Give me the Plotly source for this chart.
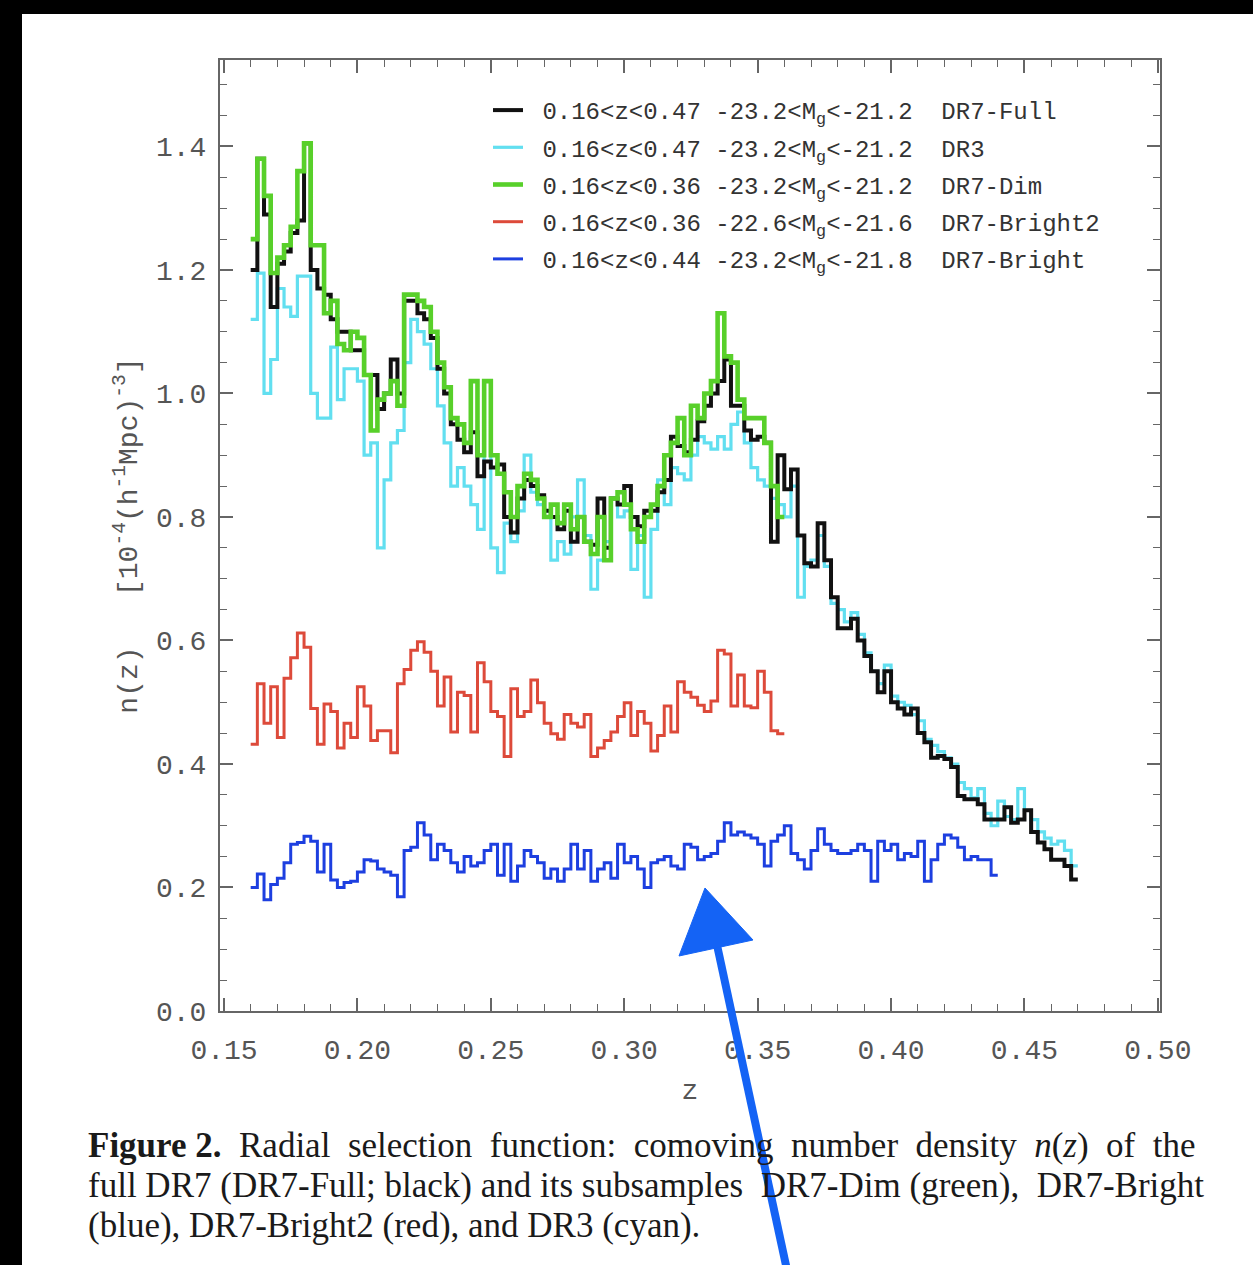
import numpy as np
import plotly.graph_objects as go

# ---------------- data ----------------
Z0 = 0.16
DZ = 0.0025

dr7_full = [1.20,1.38,1.29,1.14,1.21,1.23,1.26,1.28,1.405,1.20,
            1.17,1.16,1.12,1.10,1.10,1.07,1.07,1.03,1.03,0.975,
            1.00,1.055,1.00,1.15,1.15,1.13,1.12,1.09,1.04,1.00,
            0.95,0.925,0.905,0.937,0.866,0.89,0.88,0.885,0.80,0.775,
            0.83,0.86,0.85,0.835,0.81,0.80,0.78,0.81,0.76,0.80,
            0.76,0.755,0.83,0.75,0.83,0.82,0.85,0.80,0.785,0.81,
            0.81,0.84,0.86,0.93,0.915,0.905,0.925,0.955,0.98,1.00,
            1.02,1.055,0.98,0.98,0.94,0.925,0.93,0.92,0.76,0.90,
            0.845,0.877,0.77,0.725,0.72,0.79,0.73,0.67,0.62,0.62,
            0.635,0.60,0.575,0.55,0.516,0.55,0.50,0.49,0.48,0.49,
            0.45,0.435,0.41,0.413,0.408,0.395,0.348,0.343,0.343,0.335,
            0.31,0.31,0.31,0.33,0.305,0.31,0.325,0.29,0.273,0.262,
            0.245,0.245,0.235,0.213]

dr3 = [1.12,1.195,1.00,1.055,1.17,1.14,1.125,1.19,1.19,1.00,
       0.96,0.96,1.075,0.99,1.04,1.04,1.02,0.90,0.92,0.75,
       0.86,0.92,0.94,1.05,1.12,1.10,1.08,1.04,0.98,0.92,
       0.85,0.88,0.85,0.82,0.78,1.02,0.75,0.71,0.79,0.76,
       0.81,0.90,0.84,0.82,0.81,0.73,0.76,0.74,0.80,0.86,
       0.77,0.683,0.73,0.76,0.83,0.80,0.81,0.715,0.77,0.67,
       0.78,0.86,0.82,0.88,0.87,0.86,0.90,0.93,0.92,0.91,
       0.93,0.91,0.95,0.97,0.92,0.88,0.86,0.85,0.83,0.82,
       0.80,0.85,0.67,0.72,0.73,0.77,0.72,0.66,0.65,0.63,
       0.645,0.61,0.58,0.55,0.53,0.56,0.51,0.50,0.495,0.48,
       0.47,0.44,0.43,0.42,0.41,0.40,0.37,0.36,0.345,0.36,
       0.32,0.30,0.34,0.315,0.31,0.36,0.325,0.31,0.29,0.28,
       0.27,0.275,0.26,0.235]

dr7_dim = [1.25,1.38,1.32,1.195,1.22,1.24,1.27,1.36,1.405,1.24,
           1.24,1.13,1.15,1.08,1.07,1.10,1.09,1.03,0.94,0.99,
           1.00,1.02,0.98,1.16,1.16,1.15,1.14,1.10,1.05,1.01,
           0.96,0.95,0.92,1.02,0.90,1.02,0.90,0.87,0.84,0.80,
           0.85,0.87,0.86,0.83,0.80,0.82,0.79,0.82,0.78,0.80,
           0.76,0.74,0.80,0.73,0.83,0.84,0.82,0.78,0.76,0.80,
           0.82,0.85,0.90,0.92,0.96,0.90,0.98,0.96,1.00,1.02,
           1.13,1.06,1.05,0.99,0.96,0.96,0.96,0.92,0.85,0.80]

dr7_bright2 = [0.432,0.530,0.466,0.525,0.443,0.539,0.572,0.612,0.589,0.490,
               0.432,0.497,0.485,0.426,0.466,0.443,0.525,0.494,0.438,0.454,
               0.454,0.418,0.530,0.553,0.584,0.598,0.581,0.550,0.494,0.541,
               0.452,0.516,0.511,0.452,0.564,0.533,0.485,0.477,0.412,0.522,
               0.477,0.485,0.536,0.499,0.466,0.449,0.440,0.480,0.466,0.460,
               0.480,0.412,0.426,0.438,0.452,0.477,0.499,0.446,0.485,0.466,
               0.421,0.446,0.494,0.452,0.533,0.516,0.508,0.495,0.485,0.502,
               0.584,0.578,0.494,0.544,0.494,0.491,0.550,0.516,0.454,0.449]

dr7_bright = [0.200,0.222,0.180,0.205,0.215,0.240,0.270,0.273,0.283,0.275,
              0.225,0.270,0.212,0.200,0.208,0.210,0.225,0.245,0.243,0.230,
              0.225,0.220,0.185,0.260,0.265,0.305,0.285,0.245,0.270,0.260,
              0.240,0.225,0.250,0.235,0.240,0.260,0.270,0.220,0.270,0.210,
              0.235,0.260,0.250,0.240,0.215,0.230,0.210,0.230,0.270,0.230,
              0.260,0.210,0.230,0.240,0.215,0.270,
              0.240,0.250,0.230,0.200,0.240,0.245,0.250,0.235,0.230,0.270,
              0.265,0.245,0.250,0.255,0.275,0.305,0.285,0.290,0.285,0.280,
              0.270,0.235,0.275,0.285,0.300,0.255,0.245,0.230,0.260,0.295,
              0.270,0.260,0.255,0.255,0.260,0.270,0.260,0.210,0.275,0.260,
              0.270,0.245,0.255,0.250,0.275,0.210,0.245,0.270,0.285,0.280,
              0.265,0.245,0.250,0.245,0.245,0.220]

legend_labels = [
    "0.16&lt;z&lt;0.47 -23.2&lt;M<sub>g</sub>&lt;-21.2\u00a0\u00a0DR7-Full",
    "0.16&lt;z&lt;0.47 -23.2&lt;M<sub>g</sub>&lt;-21.2\u00a0\u00a0DR3",
    "0.16&lt;z&lt;0.36 -23.2&lt;M<sub>g</sub>&lt;-21.2\u00a0\u00a0DR7-Dim",
    "0.16&lt;z&lt;0.36 -22.6&lt;M<sub>g</sub>&lt;-21.6\u00a0\u00a0DR7-Bright2",
    "0.16&lt;z&lt;0.44 -23.2&lt;M<sub>g</sub>&lt;-21.8\u00a0\u00a0DR7-Bright",
]

x_ticks = [0.15, 0.20, 0.25, 0.30, 0.35, 0.40, 0.45, 0.50]
y_ticks = [0.0, 0.2, 0.4, 0.6, 0.8, 1.0, 1.2, 1.4]

caption_lines = [
    "<b>Figure 2.</b>\u00a0 Radial\u00a0 selection\u00a0 function:\u00a0 comoving\u00a0 number\u00a0 density\u00a0 <i>n</i>(<i>z</i>)\u00a0 of\u00a0 the",
    "full DR7 (DR7-Full; black) and its subsamples\u00a0 DR7-Dim (green),\u00a0 DR7-Bright",
    "(blue), DR7-Bright2 (red), and DR3 (cyan).",
]

# ---------------- figure ----------------
W, H = 1253, 1265
L, R, T, B = 220, 93, 60, 254
PW, PH = W - L - R, H - T - B


def px(xpix):
    return (xpix - L) / PW


def py(ypix):
    return (H - B - ypix) / PH


def steps(vals):
    edges = Z0 + DZ * np.arange(len(vals) + 1)
    return edges, list(vals) + [vals[-1]]


series = [
    # (values, color, width, legend index)
    (dr3, "#62dff0", 3.2, 1),
    (dr7_full, "#111111", 4.0, 0),
    (dr7_dim, "#58d02a", 4.6, 2),
    (dr7_bright2, "#dd4a3a", 3.0, 3),
    (dr7_bright, "#1d3fe0", 3.0, 4),
]

MONO = "Liberation Mono, DejaVu Sans Mono, monospace"

fig = go.Figure()
for vals, col, w, li in series:
    xs, ys = steps(vals)
    fig.add_trace(go.Scatter(
        x=xs, y=ys, mode="lines",
        line=dict(shape="hv", color=col, width=w),
        name="\u00a0" + legend_labels[li],
        legendrank=li + 1,
        legendgroup="g%d" % li,
    ))

axis_common = dict(
    showline=True, linecolor="#666666", linewidth=2, mirror="ticks",
    ticks="inside", ticklen=13, tickwidth=1.5, tickcolor="#666666",
    showgrid=False, zeroline=False,
    tickfont=dict(family=MONO, size=28, color="#555555"),
)

fig.update_xaxes(
    range=[0.1485, 0.5008], tickvals=x_ticks,
    ticktext=["%.2f" % v for v in x_ticks],
    minor=dict(dtick=0.01, tick0=0.15, ticks="inside", ticklen=7, tickcolor="#666666", tickwidth=1.2),
    title=dict(text="z", font=dict(family=MONO, size=28, color="#555555"), standoff=14),
    ticklabelstandoff=12,
    **axis_common,
)
fig.update_yaxes(
    range=[0.0, 1.54], tickvals=y_ticks,
    ticktext=["%.1f" % v for v in y_ticks],
    minor=dict(dtick=0.05, tick0=0.0, ticks="inside", ticklen=7, tickcolor="#666666", tickwidth=1.2),
    title=dict(text="n(z)\u00a0\u00a0\u00a0[10<sup>-4</sup>(h<sup>-1</sup>Mpc)<sup>-3</sup>]",
               font=dict(family=MONO, size=28, color="#555555"), standoff=10),
    ticklabelstandoff=6,
    **axis_common,
)

fig.update_layout(
    width=W, height=H,
    margin=dict(l=L, r=R, t=T, b=B),
    paper_bgcolor="white", plot_bgcolor="white",
    showlegend=True,
    legend=dict(
        x=px(488), y=py(88), xanchor="left", yanchor="top",
        bgcolor="rgba(0,0,0,0)", borderwidth=0,
        font=dict(family=MONO, size=24, color="#333333"),
        tracegroupgap=3, itemwidth=30,
    ),
)

# caption
cap_y = [1145, 1185, 1225]
for txt, yy in zip(caption_lines, cap_y):
    fig.add_annotation(
        text=txt, xref="paper", yref="paper", x=px(86), y=py(yy),
        xanchor="left", yanchor="middle", showarrow=False,
        font=dict(family="Liberation Serif, Times New Roman, serif", size=35, color="#1a1a1a"),
    )

# black scan borders
fig.add_shape(type="rect", xref="paper", yref="paper",
              x0=px(0), x1=px(22), y0=py(H), y1=py(0),
              fillcolor="black", line=dict(width=0), layer="above")
fig.add_shape(type="rect", xref="paper", yref="paper",
              x0=px(0), x1=px(W), y0=py(14), y1=py(0),
              fillcolor="black", line=dict(width=0), layer="above")

# blue pointer arrow
arrow_col = "#1463f5"
fig.add_shape(type="line", xref="paper", yref="paper",
              x0=px(787), y0=py(1270), x1=px(717), y1=py(945),
              line=dict(color=arrow_col, width=8), layer="above")
fig.add_shape(type="path", xref="paper", yref="paper",
              path="M %f %f L %f %f L %f %f Z" % (px(705), py(888), px(679), py(956), px(753), py(940)),
              fillcolor=arrow_col, line=dict(color=arrow_col, width=1), layer="above")

fig.write_html(
    "out.html",
    config={"displayModeBar": False},
    post_script="document.body.style.margin='0';document.body.style.padding='0';document.body.style.overflow='hidden';",
)
